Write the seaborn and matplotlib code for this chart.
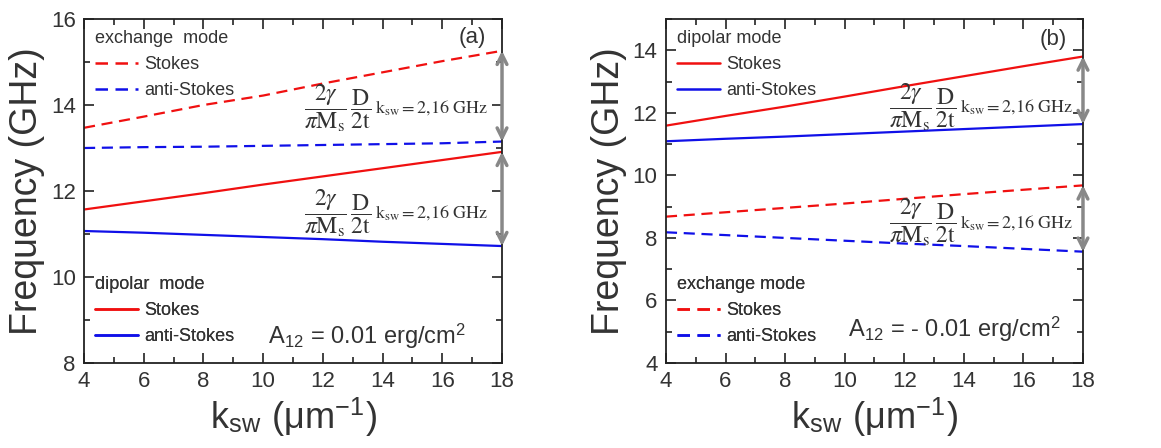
import numpy as np
import pandas as pd
import matplotlib
matplotlib.use("Agg")
import matplotlib.pyplot as plt
from matplotlib.lines import Line2D
from matplotlib.ticker import MultipleLocator
import seaborn as sns

# ---------------- data ----------------
k_sw = [4, 6, 8, 10, 12, 14, 16, 18]

# panel (a): A12 = 0.01 erg/cm^2
a_exch_stokes = [13.47, 13.73, 14.00, 14.22, 14.50, 14.76, 15.02, 15.26]
a_exch_anti   = [13.00, 13.02, 13.03, 13.05, 13.07, 13.09, 13.11, 13.15]
a_dip_stokes  = [11.57, 11.76, 11.95, 12.15, 12.34, 12.53, 12.72, 12.91]
a_dip_anti    = [11.07, 11.03, 10.98, 10.93, 10.88, 10.82, 10.77, 10.72]

# panel (b): A12 = -0.01 erg/cm^2
b_dip_stokes  = [11.59, 11.90, 12.20, 12.52, 12.85, 13.17, 13.49, 13.80]
b_dip_anti    = [11.09, 11.17, 11.24, 11.32, 11.40, 11.48, 11.56, 11.64]
b_exch_stokes = [8.68, 8.82, 8.96, 9.10, 9.25, 9.40, 9.54, 9.68]
b_exch_anti   = [8.18, 8.09, 8.00, 7.91, 7.82, 7.74, 7.65, 7.56]

panel_labels = ["(a)", "(b)"]
a12_labels = [r"A$_{\mathregular{12}}$ = 0.01 erg/cm$^{\mathregular{2}}$",
              r"A$_{\mathregular{12}}$ = - 0.01 erg/cm$^{\mathregular{2}}$"]
formula_frac = r"$\dfrac{2\gamma}{\pi \mathrm{M}_\mathrm{s}}\,\dfrac{\mathrm{D}}{\mathrm{2t}}$"
formula_rest = r"$\mathrm{k}_\mathrm{sw} = 2{,}16\ \mathrm{GHz}$"

# ---------------- style ----------------
sns.set_style("ticks")
plt.rcParams['font.family'] = ['Liberation Sans', 'DejaVu Sans']
plt.rcParams['mathtext.fontset'] = 'stix'

RED = "#f01010"
BLUE = "#1010e8"
GRAY = "#888888"
TXT = "#333333"
DASH = (5, 3)

fig = plt.figure(figsize=(11.61, 4.48), dpi=100)
axA = fig.add_axes([0.0724, 0.1897, 0.36, 0.7679])
axB = fig.add_axes([0.5736, 0.1897, 0.3592, 0.7679])


def draw(ax, y, color, dashed):
    df = pd.DataFrame({"k": k_sw, "f": y})
    sns.lineplot(data=df, x="k", y="f", ax=ax, color=color, lw=1.6,
                 linestyle="--" if dashed else "-")
    ln = ax.get_lines()[-1]
    if dashed:
        ln.set_dashes(DASH)


def style_axes(ax, ylim, ymaj):
    ax.set_xlim(4, 18)
    ax.set_ylim(*ylim)
    ax.xaxis.set_major_locator(MultipleLocator(2))
    ax.xaxis.set_minor_locator(MultipleLocator(1))
    ax.yaxis.set_major_locator(MultipleLocator(ymaj))
    ax.yaxis.set_minor_locator(MultipleLocator(ymaj / 2))
    ax.tick_params(which="both", direction="in", top=True, right=True,
                   color="#222222", width=1.2)
    ax.tick_params(which="major", length=7, labelsize=16, labelcolor=TXT, pad=6)
    ax.tick_params(which="minor", length=4)
    for s in ax.spines.values():
        s.set_linewidth(1.3)
        s.set_color("#222222")
    ax.set_xlabel(r"k$_{\mathregular{sw}}$ (μm$^{\mathregular{-1}}$)",
                  fontsize=26, color=TXT, labelpad=2)
    ax.set_ylabel("Frequency (GHz)", fontsize=27, color=TXT, labelpad=4)


def legend(ax, title, loc, anchor):
    dashed = "exchange" in title
    handles = [Line2D([], [], color=RED, lw=1.8, linestyle=(0, DASH) if dashed else "-"),
               Line2D([], [], color=BLUE, lw=1.8, linestyle=(0, DASH) if dashed else "-")]
    leg = ax.legend(handles, ["Stokes", "anti-Stokes"], title=title, loc=loc,
                    bbox_to_anchor=anchor, frameon=False, fontsize=13,
                    title_fontsize=13, handlelength=2.4, handletextpad=0.35,
                    labelspacing=0.5, borderaxespad=0.2, alignment="left")
    leg.get_title().set_color(TXT)
    for t in leg.get_texts():
        t.set_color(TXT)
    ax.add_artist(leg)
    return leg


def arrow(ax, y1, y2):
    ax.annotate("", xy=(18, y2), xytext=(18, y1),
                arrowprops=dict(arrowstyle="<->,head_length=0.7,head_width=0.35",
                                color=GRAY, lw=2.5, shrinkA=0, shrinkB=0),
                annotation_clip=False)


def formula(ax, x, y):
    ax.annotate(formula_frac, xy=(x, y), xytext=(-3, 0), textcoords="offset points",
                fontsize=17, color=TXT, ha="right", va="center")
    ax.annotate(formula_rest, xy=(x, y), xytext=(0, 0), textcoords="offset points",
                fontsize=13, color=TXT, ha="left", va="center")


# ---------------- panel (a) ----------------
draw(axA, a_exch_stokes, RED, True)
draw(axA, a_exch_anti, BLUE, True)
draw(axA, a_dip_stokes, RED, False)
draw(axA, a_dip_anti, BLUE, False)
style_axes(axA, (8, 16), 2)
legend(axA, "exchange  mode", "upper left", (0.0, 1.0))
legend(axA, "dipolar  mode", "lower left", (0.0, 0.02))
arrow(axA, a_exch_stokes[-1], a_exch_anti[-1])
arrow(axA, a_dip_stokes[-1], a_dip_anti[-1])
formula(axA, 13.75, 13.93)
formula(axA, 13.75, 11.49)
axA.text(17.0, 15.58, panel_labels[0], fontsize=16, color=TXT, ha="center", va="center")
axA.text(10.15, 8.45, a12_labels[0], fontsize=17, color=TXT, ha="left", va="baseline")

# ---------------- panel (b) ----------------
draw(axB, b_dip_stokes, RED, False)
draw(axB, b_dip_anti, BLUE, False)
draw(axB, b_exch_stokes, RED, True)
draw(axB, b_exch_anti, BLUE, True)
style_axes(axB, (4, 15), 2)
legend(axB, "dipolar mode", "upper left", (0.0, 1.0))
legend(axB, "exchange mode", "lower left", (0.0, 0.02))
arrow(axB, b_dip_stokes[-1], b_dip_anti[-1])
arrow(axB, b_exch_stokes[-1], b_exch_anti[-1])
formula(axB, 13.87, 12.19)
formula(axB, 13.87, 8.49)
axB.text(17.0, 14.33, panel_labels[1], fontsize=16, color=TXT, ha="center", va="center")
axB.text(10.1, 4.85, a12_labels[1], fontsize=17, color=TXT, ha="left", va="baseline")

fig.savefig("out.png", dpi=100)
